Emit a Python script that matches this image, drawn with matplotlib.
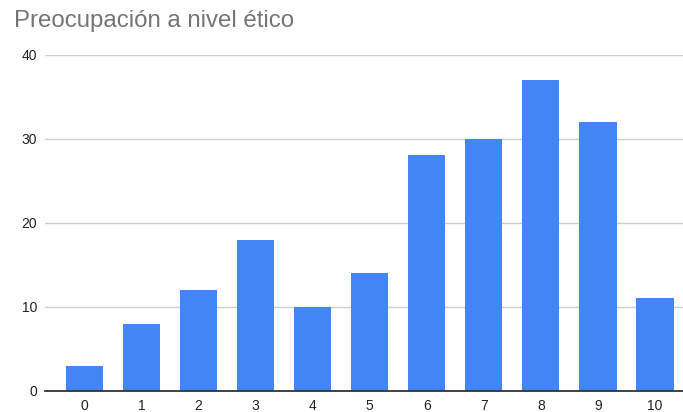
import matplotlib
matplotlib.use("Agg")
import matplotlib.pyplot as plt

categories = ["0", "1", "2", "3", "4", "5", "6", "7", "8", "9", "10"]
values = [3, 8, 12, 18, 10, 14, 28, 30, 37, 32, 11]
yticks = [0, 10, 20, 30, 40]

plt.rcParams['font.family'] = ['Liberation Sans', 'DejaVu Sans']

fig = plt.figure(figsize=(6.83, 4.12), dpi=100)
ax = fig.add_axes([45/683, 1 - 391/412, 638/683, (391 - 54.5)/412])

x = list(range(len(categories)))
ax.bar(x, values, width=0.65, color="#4285F4", zorder=3)

ax.set_xlim(-0.69, 10.49)
ax.set_ylim(0, 40)
ax.set_yticks(yticks)
ax.set_xticks(x)
ax.set_xticklabels(categories)
ax.tick_params(axis='both', length=0, labelsize=10, labelcolor="#222222")
ax.tick_params(axis='y', pad=5.8)
ax.tick_params(axis='x', pad=6)
ax.grid(axis='y', color="#cccccc", linewidth=1, zorder=0)
for s in ["top", "right", "left"]:
    ax.spines[s].set_visible(False)
ax.spines["bottom"].set_color("#333333")
ax.spines["bottom"].set_linewidth(1.3)
ax.spines["bottom"].set_zorder(4)

fig.text(14/683, 1 - 27.3/412, "Preocupación a nivel ético", fontsize=17.3,
         color="#757575", va="baseline", ha="left")

fig.savefig("out.png", dpi=100)
